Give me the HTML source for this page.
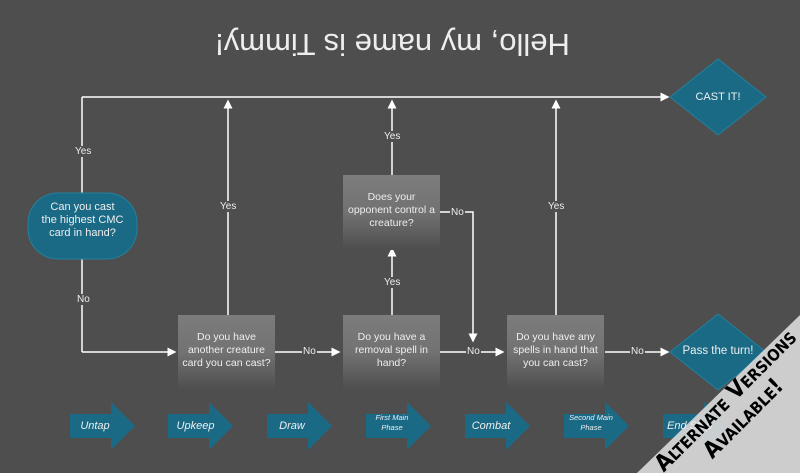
<!DOCTYPE html>
<html><head><style>
html,body{margin:0;padding:0;width:800px;height:473px;overflow:hidden}
body{background:#4e4e4e;position:relative;font-family:"Liberation Sans",sans-serif;color:#eee}
.t{position:absolute;text-align:center;font-size:11px;line-height:13px}
.box{position:absolute;width:97px;height:75px;background:linear-gradient(#7c7c7c 0%,#727272 50%,#4e4e4e 100%);display:flex;align-items:center;justify-content:center;text-align:center;font-size:10.5px;line-height:13px;padding-bottom:4px;box-sizing:border-box}
.lbl{position:absolute;font-size:10px;background:#4e4e4e;padding:0 1px;line-height:11px}
</style></head><body>
<div style="position:absolute;left:0;top:26px;width:785px;text-align:center;font-size:31px;transform:rotate(180deg);color:#eee">Hello, my name is Timmy!</div>
<svg width="800" height="473" style="position:absolute;left:0;top:0">
<defs><marker id="a" markerWidth="6" markerHeight="6" refX="5" refY="3" orient="auto"><path d="M0,0L6,3L0,6z" fill="#fff"/></marker></defs>
<g stroke="#fff" stroke-width="1.5" fill="none">
<line x1="82" y1="97" x2="668" y2="97" marker-end="url(#a)"/>
<line x1="82" y1="97" x2="82" y2="195"/>
<line x1="82" y1="258" x2="82" y2="352"/>
<line x1="82" y1="352" x2="175" y2="352" marker-end="url(#a)"/>
<line x1="228" y1="316" x2="228" y2="101" marker-end="url(#a)"/>
<line x1="392" y1="176" x2="392" y2="101" marker-end="url(#a)"/>
<line x1="392" y1="316" x2="392" y2="249" marker-end="url(#a)"/>
<line x1="556" y1="316" x2="556" y2="101" marker-end="url(#a)"/>
<line x1="275" y1="352" x2="339" y2="352" marker-end="url(#a)"/>
<line x1="440" y1="352" x2="503" y2="352" marker-end="url(#a)"/>
<line x1="605" y1="352" x2="668" y2="352" marker-end="url(#a)"/>
<polyline points="440,212 473,212 473,341" marker-end="url(#a)"/>
</g>
<polygon points="670,97 718,59 766,97 718,135" fill="#1a6a86" stroke="#24809e"/>
<polygon points="670,352 718,314 766,352 718,390" fill="#1a6a86" stroke="#24809e"/>
<rect x="28" y="193" width="109" height="66" rx="30" fill="#1a6a86" stroke="#24809e"/>
<g fill="#1a6a86">
<path d="M70,414h41v-12l24,24l-24,24v-12h-41z"/>
<path d="M168,414h41v-12l24,24l-24,24v-12h-41z"/>
<path d="M267,414h41v-12l24,24l-24,24v-12h-41z"/>
<path d="M366,414h41v-12l24,24l-24,24v-12h-41z"/>
<path d="M465,414h41v-12l24,24l-24,24v-12h-41z"/>
<path d="M564,414h41v-12l24,24l-24,24v-12h-41z"/>
<path d="M663,414h41v-12l24,24l-24,24v-12h-41z"/>
</g>
<polygon points="800,315 800,473 637,473" fill="#d8d8d8" fill-opacity="0.92"/>
</svg>
<div class="t" style="left:28px;top:201px;width:109px">Can you cast<br>the highest CMC<br>card in hand?</div>
<div class="t" style="left:670px;top:91px;width:96px;font-size:11px">CAST IT!</div>
<div class="t" style="left:670px;top:345px;width:96px;font-size:11.5px">Pass the turn!</div>
<div class="box" style="left:178px;top:315px">Do you have<br>another creature<br>card you can cast?</div>
<div class="box" style="left:343px;top:315px">Do you have a<br>removal spell in<br>hand?</div>
<div class="box" style="left:343px;top:175px">Does your<br>opponent control a<br>creature?</div>
<div class="box" style="left:507px;top:315px">Do you have any<br>spells in hand that<br>you can cast?</div>
<div class="lbl" style="left:74px;top:146px">Yes</div>
<div class="lbl" style="left:76px;top:294px">No</div>
<div class="lbl" style="left:219px;top:201px">Yes</div>
<div class="lbl" style="left:383px;top:131px">Yes</div>
<div class="lbl" style="left:383px;top:277px">Yes</div>
<div class="lbl" style="left:547px;top:201px">Yes</div>
<div class="lbl" style="left:450px;top:207px">No</div>
<div class="lbl" style="left:302px;top:346px">No</div>
<div class="lbl" style="left:466px;top:346px">No</div>
<div class="lbl" style="left:630px;top:346px">No</div>
<div class="t" style="left:70px;top:420px;width:50px;font-style:italic;font-size:11px">Untap</div>
<div class="t" style="left:168px;top:420px;width:55px;font-style:italic;font-size:11px">Upkeep</div>
<div class="t" style="left:267px;top:420px;width:50px;font-style:italic;font-size:11px">Draw</div>
<div class="t" style="left:366px;top:413px;width:52px;font-style:italic;font-size:7.5px;line-height:10px">First Main<br>Phase</div>
<div class="t" style="left:465px;top:420px;width:52px;font-style:italic;font-size:11px">Combat</div>
<div class="t" style="left:561px;top:413px;width:60px;font-style:italic;font-size:7.5px;line-height:10px">Second Main<br>Phase</div>
<div class="t" style="left:663px;top:420px;width:60px;font-style:italic;font-size:11px;text-align:left;padding-left:4px">End Step</div>
<div style="position:absolute;left:640px;top:385px;width:190px;transform:rotate(-45deg);text-align:center;color:#000;font-weight:bold;font-size:23px;line-height:25px;font-family:'DejaVu Sans Condensed','Liberation Sans Narrow',sans-serif;font-variant:small-caps">Alternate Versions<br>Available!</div>
</body></html>
